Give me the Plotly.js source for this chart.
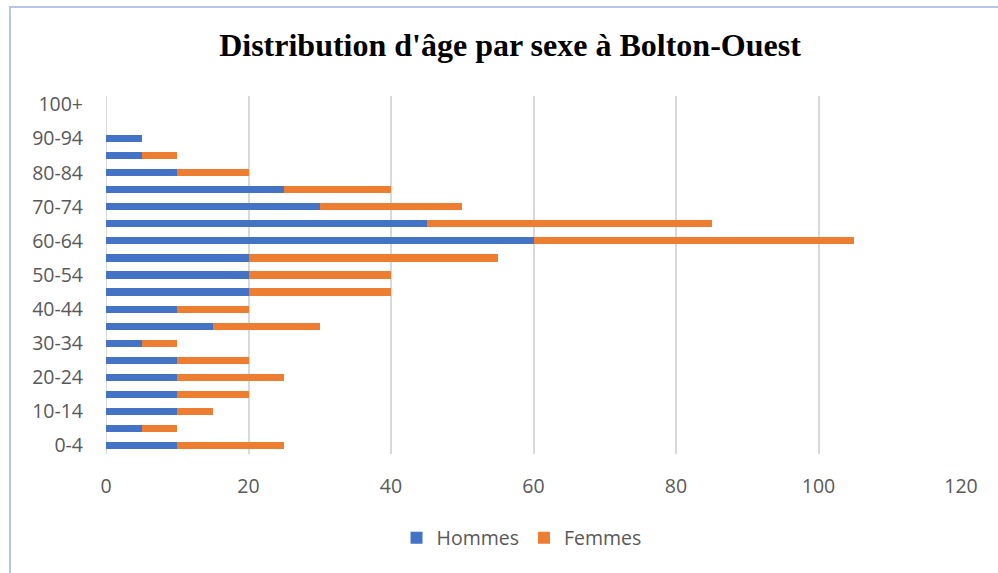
<!DOCTYPE html>
<html><head><meta charset="utf-8">
<script src="https://cdn.plot.ly/plotly-3.0.1.min.js"></script>
<style>html,body{margin:0;padding:0;background:#fff;}#wrap{position:relative;width:998px;height:573px;}
#chart{width:998px;height:573px;}
#frame{position:absolute;left:9px;top:6px;right:-5px;bottom:-5px;border-left:2px solid #b4c7e7;border-top:2px solid #b4c7e7;pointer-events:none;}</style>
</head><body>
<div id="wrap"><div id="chart"></div><div id="frame"></div></div>
<script>
const ageGroups = ["0-4","5-9","10-14","15-19","20-24","25-29","30-34","35-39","40-44","45-49","50-54","55-59","60-64","65-69","70-74","75-79","80-84","85-89","90-94","95-99","100+"];
const hommes = [10,5,10,10,10,10,5,15,10,20,20,20,60,45,30,25,10,5,5,0,0];
const femmes = [15,5,5,10,15,10,5,15,10,20,20,35,45,40,20,15,10,5,0,0,0];
const yTickLabels = ["0-4","10-14","20-24","30-34","40-44","50-54","60-64","70-74","80-84","90-94","100+"];
const xTicks = [0,20,40,60,80,100,120];

const traces = [
  {type:'bar', orientation:'h', name:'Hommes', y:ageGroups, x:hommes, marker:{color:'#4472c4'}},
  {type:'bar', orientation:'h', name:'Femmes', y:ageGroups, x:femmes, marker:{color:'#ed7d31'}}
];
const tickFont = {family:'Open Sans, sans-serif', size:19.5, color:'#595959'};
const layout = {
  width:998, height:573,
  barmode:'stack', bargap:0.58,
  paper_bgcolor:'#ffffff', plot_bgcolor:'#ffffff',
  margin:{l:106, r:37, t:96, b:119},
  title:{text:"<b>Distribution d'âge par sexe à Bolton-Ouest</b>", font:{family:'Liberation Serif, Times New Roman, serif', size:32, color:'#000'}, x:0.511, xanchor:'center', y:0.921, yanchor:'middle'},
  xaxis:{range:[0,120], tickvals:xTicks, showgrid:true, gridcolor:'#d9d9d9', gridwidth:2, zeroline:false, showline:false, ticks:'', tickfont:tickFont, ticklabelstandoff:18, fixedrange:true},
  yaxis:{type:'category', categoryorder:'array', categoryarray:ageGroups, tickvals:yTickLabels, ticktext:yTickLabels, range:[-0.5,20.5], showgrid:false, zeroline:false, showline:false, ticks:'', tickfont:tickFont, ticklabelstandoff:22},
  shapes:[{type:'line', xref:'x', yref:'paper', x0:0, x1:0, y0:0, y1:1, line:{color:'#d9d9d9', width:2}, layer:'below'}],
  showlegend:true,
  legend:{orientation:'h', x:0.486, xanchor:'center', y:-0.235, yanchor:'middle', font:tickFont, itemwidth:30, traceorder:'normal'}
};
Plotly.newPlot('chart', traces, layout, {displayModeBar:false, staticPlot:true});
</script>
</body></html>
